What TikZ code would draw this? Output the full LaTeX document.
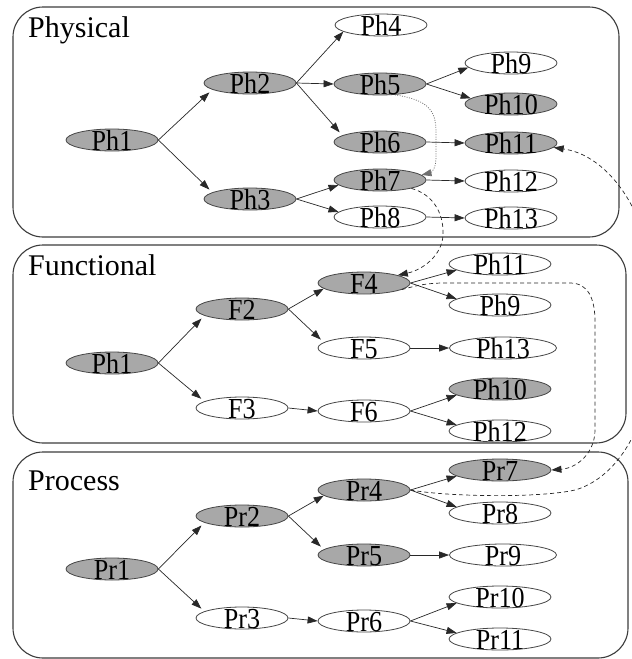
\documentclass[tikz,border=0pt]{standalone}
\usepackage{fontspec}
\setmainfont{Liberation Serif}
\newfontfamily\nodefont[FakeStretch=0.9]{Liberation Serif}
\usetikzlibrary{shapes.geometric,arrows.meta}

\definecolor{ndgray}{RGB}{168,168,168}
\definecolor{ndline}{RGB}{70,70,70}
\definecolor{edgecol}{RGB}{40,40,40}
\definecolor{boxline}{RGB}{60,60,60}
\definecolor{dotcol}{RGB}{110,110,110}

% node text sits low in its oval
\newcommand\lowtext[1]{\raisebox{-10.5pt}[0pt][0pt]{#1}}

\tikzset{
  oval/.style={ellipse, draw=ndline, line width=0.8pt, minimum width=92pt,
    minimum height=22pt, inner sep=0pt,
    font=\nodefont\fontsize{29}{29}\selectfont},
  fullnd/.style={oval, fill=ndgray},
  emptynd/.style={oval, fill=white},
  wide/.style={minimum width=102pt},
  wider/.style={minimum width=107pt},
  link/.style={draw=edgecol, line width=0.7pt, -{Triangle[length=10pt,width=7pt]}},
  slant/.style={link, shorten >=4pt},
  crosslink/.style={link, dash pattern=on 4pt off 3pt},
  dotlink/.style={link, draw=dotcol, dash pattern=on 1pt off 1.4pt},
  layer/.style={draw=boxline, line width=1.1pt, rounded corners=30pt},
  layertitle/.style={anchor=base west, inner sep=0pt,
    font=\fontsize{30}{30}\selectfont}
}

\begin{document}
\begin{tikzpicture}[x=1pt,y=-1pt]
\clip (0,0) rectangle (632,659);
\fill[white] (0,0) rectangle (632,659);

% layer frames
\draw[layer] (13,7) rectangle (619,237);
\draw[layer] (13,245) rectangle (626,443);
\draw[layer] (13,452) rectangle (628,658);

\node[layertitle] (tphys) at (28,37) {Physical};
\node[layertitle] (tfunc) at (28,275) {Functional};
\node[layertitle] (tproc) at (28,490) {Process};

% physical layer
\node[fullnd]  (ph1)  at (112,140) {\lowtext{Ph1}};
\node[fullnd]  (ph2)  at (250,83)  {\lowtext{Ph2}};
\node[fullnd]  (ph3)  at (250,199) {\lowtext{Ph3}};
\node[emptynd] (ph4)  at (381,25)  {\lowtext{Ph4}};
\node[fullnd]  (ph5)  at (380,84)  {\lowtext{Ph5}};
\node[fullnd]  (ph6)  at (380,142) {\lowtext{Ph6}};
\node[fullnd]  (ph7)  at (380,180) {\lowtext{Ph7}};
\node[emptynd] (ph8)  at (380,217) {\lowtext{Ph8}};
\node[emptynd] (ph9)  at (511,63)  {\lowtext{Ph9}};
\node[fullnd]  (ph10) at (511,104) {\lowtext{Ph10}};
\node[fullnd]  (ph11) at (511,143) {\lowtext{Ph11}};
\node[emptynd] (ph12) at (511,181) {\lowtext{Ph12}};
\node[emptynd] (ph13) at (511,218) {\lowtext{Ph13}};

\draw[slant] (ph1.east) -- (ph2.190);
\draw[slant] (ph1.east) -- (ph3.170);
\draw[link]  (ph2.east) -- (ph4.190);
\draw[link]  (ph2.east) -- (ph5.west);
\draw[slant] (ph2.east) -- (ph6.170);
\draw[link]  (ph3.east) -- (ph7.187);
\draw[link]  (ph3.east) -- (ph8.173);
\draw[link]  (ph5.east) -- (ph9.186);
\draw[link]  (ph5.east) -- (ph10.172);
\draw[link]  (ph6.east) -- (ph11.west);
\draw[link]  (ph7.east) -- (ph12.west);
\draw[link]  (ph8.east) -- (ph13.west);

% functional layer
\node[fullnd]        (fph1)  at (112,363) {\lowtext{Ph1}};
\node[fullnd]        (f2)    at (242,309) {\lowtext{F2}};
\node[emptynd]       (f3)    at (242,408) {\lowtext{F3}};
\node[fullnd]        (f4)    at (364,283) {\lowtext{F4}};
\node[emptynd]       (f5)    at (364,348) {\lowtext{F5}};
\node[emptynd]       (f6)    at (364,411) {\lowtext{F6}};
\node[emptynd,wide]  (fph11) at (500,264) {\lowtext{Ph11}};
\node[emptynd,wide]  (fph9)  at (500,305) {\lowtext{Ph9}};
\node[emptynd,wider] (fph13) at (503,348) {\lowtext{Ph13}};
\node[fullnd,wide]   (fph10) at (500,389) {\lowtext{Ph10}};
\node[emptynd,wide]  (fph12) at (500,431) {\lowtext{Ph12}};

\draw[slant] (fph1.east) -- (f2.190);
\draw[slant] (fph1.east) -- (f3.170);
\draw[link]  (f2.east) -- (f4.188);
\draw[slant] (f2.east) -- (f5.172);
\draw[link]  (f3.east) -- (f6.west);
\draw[link]  (f4.east) -- (fph11.188);
\draw[link]  (f4.east) -- (fph9.172);
\draw[link]  (f5.east) -- (fph13.west);
\draw[link]  (f6.east) -- (fph10.188);
\draw[link]  (f6.east) -- (fph12.172);

% process layer
\node[fullnd]        (pr1)  at (112,569) {\lowtext{Pr1}};
\node[fullnd]        (pr2)  at (242,516) {\lowtext{Pr2}};
\node[emptynd]       (pr3)  at (242,618) {\lowtext{Pr3}};
\node[fullnd]        (pr4)  at (364,490) {\lowtext{Pr4}};
\node[fullnd]        (pr5)  at (364,555) {\lowtext{Pr5}};
\node[emptynd]       (pr6)  at (364,621) {\lowtext{Pr6}};
\node[fullnd,wide]   (pr7)  at (500,470) {\lowtext{Pr7}};
\node[emptynd,wide]  (pr8)  at (500,513) {\lowtext{Pr8}};
\node[emptynd,wider] (pr9)  at (503,555) {\lowtext{Pr9}};
\node[emptynd,wide]  (pr10) at (500,597) {\lowtext{Pr10}};
\node[emptynd,wide]  (pr11) at (500,639) {\lowtext{Pr11}};

\draw[slant] (pr1.east) -- (pr2.190);
\draw[slant] (pr1.east) -- (pr3.170);
\draw[link]  (pr2.east) -- (pr4.188);
\draw[slant] (pr2.east) -- (pr5.172);
\draw[link]  (pr3.east) -- (pr6.west);
\draw[link]  (pr4.east) -- (pr7.188);
\draw[link]  (pr4.east) -- (pr8.172);
\draw[link]  (pr5.east) -- (pr9.west);
\draw[link]  (pr6.east) -- (pr10.188);
\draw[link]  (pr6.east) -- (pr11.172);

% links between layers
\draw[dotlink] (ph5.-36) .. controls (428,100) and (436,110) .. (436,132)
  -- (436,158) .. controls (436,170) and (430,173) .. (ph7.7);
\draw[crosslink] (ph7.-15) .. controls (432,194) and (444,212) .. (443,235)
  .. controls (442,256) and (422,270) .. (f4.13);
\draw[crosslink] (f4.-10) .. controls (418,285) and (428,283) .. (445,283)
  -- (570,283) .. controls (588,283) and (595,298) .. (595,322)
  -- (595,430) .. controls (595,452) and (578,468) .. (pr7.east);
\draw[crosslink] (pr4.east) .. controls (450,497) and (540,498) .. (575,490)
  .. controls (600,483) and (625,460) .. (640,420)
  .. controls (660,360) and (660,280) .. (640,225)
  .. controls (632,200) and (605,155) .. (ph11.-6);
\end{tikzpicture}
\end{document}
